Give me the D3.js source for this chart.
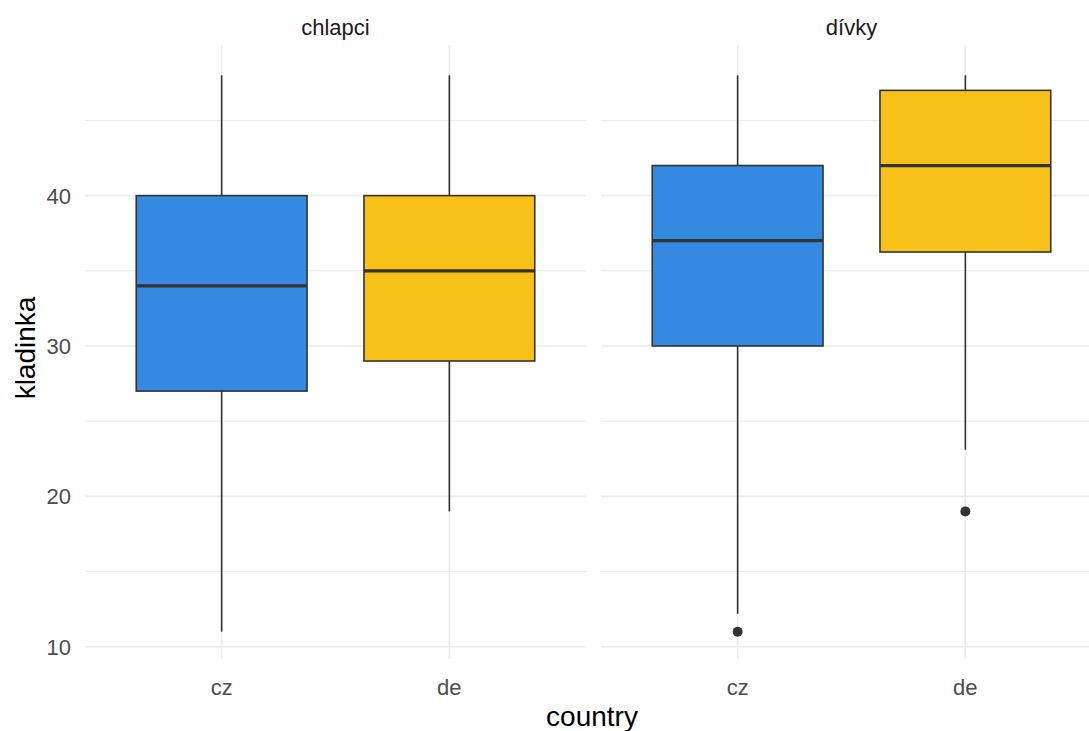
<!DOCTYPE html>
<html><head><meta charset="utf-8">
<script src="https://cdn.jsdelivr.net/npm/d3@7"></script>
<style>body{margin:0;background:#fff}svg{display:block}</style>
</head><body>
<svg id="chart" width="1089" height="731"></svg>
<script>
const panels = ["chlapci", "dívky"];
const countries = ["cz", "de"];
const boxPanel   = ["chlapci", "chlapci", "dívky", "dívky"];
const boxCountry = ["cz", "de", "cz", "de"];
const whiskerLow = [11, 19, 12.2, 23.1];
const q1         = [27, 29, 30, 36.25];
const medians    = [34, 35, 37, 42];
const q3         = [40, 40, 42, 47];
const whiskerHigh= [48, 48, 48, 48];
const outlierPanel   = ["dívky", "dívky"];
const outlierCountry = ["cz", "de"];
const outlierValues  = [11, 19];
const majorTicks = [10, 20, 30, 40];
const minorTicks = [15, 25, 35, 45];
const fillColors = {cz: "#3589e0", de: "#f7c11a"};

(function () {
const svg = d3.select("#chart");
const panelRanges = {"chlapci": [85, 586], "dívky": [601, 1102]};
const panelTop = 45, panelBottom = 659;
const y = d3.scaleLinear().domain([9.15, 49.85]).range([659.5, 47.5]);
const font = "Liberation Sans, Arial, sans-serif";

panels.forEach(p => {
  const [x0, x1] = panelRanges[p];
  const x = d3.scalePoint().domain(countries).range([x0, x1]).padding(0.6);
  const step = x.step();
  const g = svg.append("g");
  g.selectAll(".minor").data(minorTicks).enter().append("line")
    .attr("x1", x0).attr("x2", x1).attr("y1", d => y(d)).attr("y2", d => y(d))
    .attr("stroke", "#ebebeb").attr("stroke-width", 1);
  g.selectAll(".major").data(majorTicks).enter().append("line")
    .attr("x1", x0).attr("x2", x1).attr("y1", d => y(d)).attr("y2", d => y(d))
    .attr("stroke", "#ebebeb").attr("stroke-width", 1.6);
  g.selectAll(".vmajor").data(countries).enter().append("line")
    .attr("x1", d => x(d)).attr("x2", d => x(d)).attr("y1", panelTop).attr("y2", panelBottom)
    .attr("stroke", "#ebebeb").attr("stroke-width", 1.6);
  svg.append("text").attr("x", (x0 + x1) / 2).attr("y", 35)
    .attr("text-anchor", "middle").attr("font-family", font)
    .attr("font-size", 22).attr("fill", "#1a1a1a").text(p);
  svg.selectAll(null).data(countries).enter().append("text")
    .attr("x", d => x(d)).attr("y", 695).attr("text-anchor", "middle")
    .attr("font-family", font).attr("font-size", 22)
    .attr("fill", "#4d4d4d").text(d => d);

  const bw = step * 0.75;
  boxPanel.forEach((bp, i) => {
    if (bp !== p) return;
    const cx = x(boxCountry[i]);
    const bg = svg.append("g");
    bg.append("line").attr("x1", cx).attr("x2", cx)
      .attr("y1", y(whiskerHigh[i])).attr("y2", y(q3[i]))
      .attr("stroke", "#333").attr("stroke-width", 1.6);
    bg.append("line").attr("x1", cx).attr("x2", cx)
      .attr("y1", y(q1[i])).attr("y2", y(whiskerLow[i]))
      .attr("stroke", "#333").attr("stroke-width", 1.6);
    bg.append("rect").attr("x", cx - bw / 2).attr("width", bw)
      .attr("y", y(q3[i])).attr("height", y(q1[i]) - y(q3[i]))
      .attr("fill", fillColors[boxCountry[i]]).attr("stroke", "#333").attr("stroke-width", 1.6);
    bg.append("line").attr("x1", cx - bw / 2).attr("x2", cx + bw / 2)
      .attr("y1", y(medians[i])).attr("y2", y(medians[i]))
      .attr("stroke", "#333").attr("stroke-width", 3.2);
  });
  outlierPanel.forEach((op, i) => {
    if (op !== p) return;
    svg.append("circle").attr("cx", x(outlierCountry[i])).attr("cy", y(outlierValues[i]))
      .attr("r", 5).attr("fill", "#333");
  });
});

svg.selectAll(null).data(majorTicks).enter().append("text")
  .attr("x", 71).attr("y", d => y(d) + 8).attr("text-anchor", "end")
  .attr("font-family", font).attr("font-size", 22)
  .attr("fill", "#4d4d4d").text(d => d);

svg.append("text").attr("transform", "translate(35,348) rotate(-90)")
  .attr("text-anchor", "middle").attr("font-family", font)
  .attr("font-size", 28).attr("fill", "#000").text("kladinka");
svg.append("text").attr("x", 592).attr("y", 726)
  .attr("text-anchor", "middle").attr("font-family", font)
  .attr("font-size", 28).attr("fill", "#000").text("country");
})();
</script>
</body></html>
